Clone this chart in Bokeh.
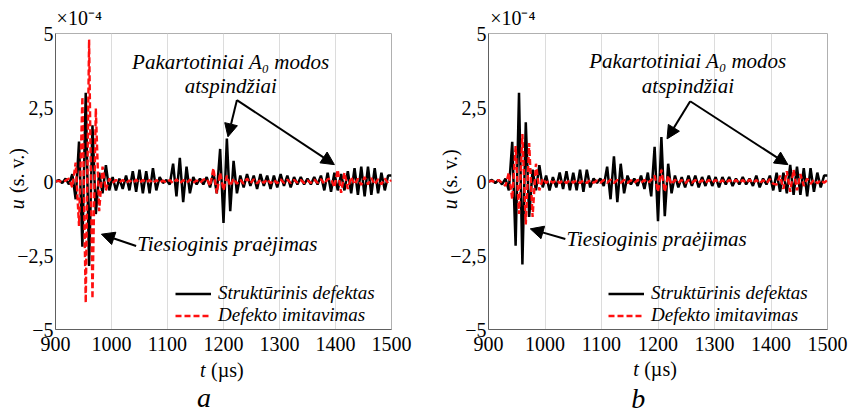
from bokeh.plotting import figure
from bokeh.layouts import row
from bokeh.models import (ColumnDataSource, Range1d, FixedTicker, Label, Arrow,
                          NormalHead, Legend)
from bokeh.embed import file_html
from bokeh.resources import INLINE

# Sampling instants (µs), one value every half period of the wave
t_us = list(range(900, 1501, 6))

# Signal amplitudes in units of 1e-4
black_a = [
    0.0, 0.05, -0.05, 0.1, -0.1, 0.25, -0.6, 1.35, -2.2, 3.0,
    -2.85, 1.9, -1.1, 0.3, -0.4, 0.55, -0.3, 0.15, -0.3, 0.1,
    -0.25, 0.2, -0.3, 0.35, -0.35, 0.4, -0.4, 0.35, -0.4, 0.45,
    -0.3, 0.15, -0.05, 0.05, -0.1, 0.6, -0.5, 0.8, -0.7, 0.5,
    -0.4, 0.15, -0.1, 0.1, -0.1, 0.15, -0.2, 0.3, -0.4, 1.1,
    -1.4, 1.45, -1.0, 0.7, -0.4, 0.2, -0.2, 0.25, -0.15, 0.2,
    -0.25, 0.25, -0.15, 0.2, -0.25, 0.2, -0.2, 0.25, -0.15, 0.2,
    -0.2, 0.15, -0.1, 0.15, -0.1, 0.1, -0.1, 0.15, -0.1, 0.2,
    -0.3, 0.3, -0.35, 0.3, -0.3, 0.25, -0.3, 0.35, -0.4, 0.45,
    -0.45, 0.5, -0.5, 0.5, -0.45, 0.45, -0.4, 0.3, -0.3, 0.2,
    0.2,
]
red_a = [
    0.0, 0.02, -0.02, 0.03, 0.1, -0.2, 0.64, -1.5, 2.86, -4.1,
    4.8, -3.96, 2.47, -1.0, 0.5, -0.3, 0.1, -0.05, 0.05, -0.03,
    0.05, -0.05, 0.04, -0.05, 0.06, -0.05, 0.05, -0.04, 0.05, -0.06,
    0.05, -0.04, 0.03, -0.04, 0.05, -0.06, 0.08, -0.06, 0.05, -0.05,
    0.06, -0.05, 0.04, -0.05, 0.06, 0.1, -0.15, 0.45, -0.4, 0.3,
    -0.3, 0.2, -0.15, 0.1, -0.08, 0.06, -0.08, 0.1, -0.06, 0.08,
    -0.07, 0.06, -0.05, 0.08, -0.06, 0.05, -0.06, 0.07, -0.05, 0.06,
    -0.05, 0.05, -0.04, 0.05, -0.05, 0.04, -0.05, 0.06, -0.05, 0.08,
    -0.08, 0.08, 0.1, -0.2, 0.4, -0.38, 0.3, -0.25, 0.15, -0.1,
    0.1, -0.12, 0.15, -0.1, 0.12, -0.1, 0.08, -0.1, 0.1, -0.06,
    0.05,
]
black_b = [
    0.0, 0.05, -0.05, 0.05, -0.1, 0.1, -0.3, 1.34, -2.17, 3.0,
    -2.8, 2.0, -1.2, 0.4, -0.3, 0.55, -0.2, 0.2, -0.3, 0.15,
    -0.2, 0.3, -0.25, 0.35, -0.3, 0.3, -0.3, 0.4, -0.35, 0.4,
    -0.2, 0.1, -0.05, 0.1, -0.15, 0.5, -0.6, 0.85, -0.7, 0.6,
    -0.4, 0.2, -0.1, 0.1, -0.15, 0.2, -0.25, 0.3, -0.5, 1.17,
    -1.34, 1.5, -1.17, 0.6, -0.4, 0.2, -0.2, 0.15, -0.2, 0.2,
    -0.15, 0.2, -0.2, 0.15, -0.15, 0.2, -0.15, 0.15, -0.2, 0.15,
    -0.1, 0.15, -0.15, 0.1, -0.1, 0.15, -0.1, 0.1, -0.15, 0.2,
    -0.2, 0.1, -0.1, 0.2, -0.3, 0.3, -0.35, 0.3, -0.4, 0.56,
    -0.45, 0.5, -0.45, 0.45, -0.5, 0.45, -0.35, 0.3, -0.2, 0.2,
    0.2,
]
red_b = [
    0.0, 0.02, -0.02, 0.05, -0.05, -0.15, 0.3, -0.6, 1.2, -1.1,
    1.6, -1.45, 1.3, -1.2, 0.6, -0.3, 0.1, -0.05, 0.05, -0.04,
    0.05, -0.05, 0.04, -0.05, 0.05, -0.04, 0.05, -0.05, 0.04, -0.05,
    0.05, -0.04, 0.03, -0.04, 0.05, -0.05, 0.06, -0.05, 0.05, -0.04,
    0.05, -0.05, 0.04, -0.05, 0.05, -0.04, 0.05, -0.05, 0.05, 0.2,
    -0.35, 0.4, -0.35, 0.2, -0.1, 0.06, -0.05, 0.05, -0.06, 0.05,
    -0.04, 0.05, -0.05, 0.04, -0.05, 0.05, -0.04, 0.05, -0.05, 0.04,
    -0.05, 0.05, -0.04, 0.05, -0.05, 0.05, -0.05, 0.06, -0.05, 0.05,
    -0.06, 0.05, -0.06, 0.08, -0.08, -0.1, 0.2, -0.25, 0.35, -0.35,
    0.4, -0.3, 0.25, -0.15, 0.1, -0.08, 0.06, -0.06, 0.05, -0.04,
    0.05,
]

x_ticks = [900, 1000, 1100, 1200, 1300, 1400, 1500]
y_ticks = [-5, -2.5, 0, 2.5, 5]
y_tick_labels = {5: "5", 2.5: "2,5", 0: "0", -2.5: "\u22122,5", -5: "\u22125"}

legend_names = ["Strukt\u016brinis defektas", "Defekto imitavimas"]
note_top = ["Pakartotiniai A\u2080 modos", "atspind\u017eiai"]
note_direct = "Tiesioginis pra\u0117jimas"

SERIF = "Liberation Serif"
HALF_PI = 1.5708


def make_panel(black, red, letter, borders, layout):
    left, right, top, bottom = borders
    src = ColumnDataSource(dict(t=t_us, black=black, red=red))
    p = figure(width=427, height=416, output_backend="svg",
               toolbar_location=None, x_range=Range1d(900, 1500),
               y_range=Range1d(-5, 5), min_border_left=left,
               min_border_right=right, min_border_top=top,
               min_border_bottom=bottom)
    p.background_fill_color = "white"
    p.border_fill_color = "white"
    p.outline_line_color = "#b0b0b0"
    p.outline_line_width = 1

    p.xaxis.ticker = FixedTicker(ticks=x_ticks)
    p.yaxis.ticker = FixedTicker(ticks=y_ticks)
    p.yaxis.major_label_overrides = y_tick_labels
    for ax in (p.xaxis[0], p.yaxis[0]):
        ax.major_tick_line_color = None
        ax.minor_tick_line_color = None
        ax.major_tick_out = 0
        ax.minor_tick_out = 0
        ax.axis_line_color = "#606060"
        ax.major_label_text_font = SERIF
        ax.major_label_text_font_size = "20px"
        ax.major_label_text_color = "black"
    p.xaxis.major_label_standoff = 7
    p.yaxis.major_label_standoff = 2
    p.xgrid.ticker = FixedTicker(ticks=x_ticks)
    p.xgrid.grid_line_color = "#dcdcdc"
    p.ygrid.grid_line_color = None

    rb = p.line("t", "black", source=src, line_color="black", line_width=2.5)
    rr = p.line("t", "red", source=src, line_color="#ff1010", line_width=2.4,
                line_dash="6 3")

    lg = Legend(items=[(legend_names[0], [rb]), (legend_names[1], [rr])],
                location=layout["legend"], glyph_width=36, glyph_height=21,
                label_height=21, spacing=0, padding=0, margin=0,
                label_standoff=7, background_fill_alpha=0,
                border_line_alpha=0, label_text_font=SERIF,
                label_text_font_style="italic", label_text_color="black",
                label_text_font_size="19px")
    p.add_layout(lg)

    def text(x, y, s, size="20px", style="italic", align="left", angle=0.0,
             place="center"):
        p.add_layout(Label(x=x, y=y, text=s, text_font=SERIF,
                           text_font_size=size, text_font_style=style,
                           text_align=align, text_baseline="middle",
                           angle=angle, text_color="black"), place)

    # annotations inside the plotting area
    cx, y1, y2 = layout["note_top"]
    text(cx, y1, note_top[0], size="21px", align="center")
    text(cx, y2, note_top[1], size="21px", align="center")
    dx, dy = layout["note_direct"]
    text(dx, dy, note_direct, size="21px")

    head = dict(size=13, fill_color="black", line_color="black")
    sx, sy = layout["arrow_start"]
    for ex, ey in layout["arrow_ends"]:
        p.add_layout(Arrow(end=NormalHead(**head), x_start=sx, y_start=sy,
                           x_end=ex, y_end=ey, line_width=2,
                           line_color="black"))
    (s2x, s2y), (e2x, e2y) = layout["direct_arrow"]
    p.add_layout(Arrow(end=NormalHead(**head), x_start=s2x, y_start=s2y,
                       x_end=e2x, y_end=e2y, line_width=2,
                       line_color="black"))

    # captions outside the plotting area live in the side panels so that
    # they are not clipped to the frame; each is drawn at its own position
    ex0, ey0 = layout["exponent"]
    text(ex0, ey0, "\u00d710\u207b\u2074", style="normal", place="above")
    ux, uy1, uy2 = layout["u_label"]
    text(ux, uy1, "u", style="italic", align="center", angle=HALF_PI,
         place="below")
    text(ux, uy2, "(s. v.)", style="normal", align="center", angle=HALF_PI,
         place="right")
    tx, ty, tx2 = layout["t_label"]
    text(tx, ty, "t", style="italic", place=layout["t_side"])
    text(tx2, ty, "(\u00b5s)", style="normal", place="below")
    lx, ly = layout["letter"]
    text(lx, ly, letter, size="28px", style="italic", align="center",
         place="left")
    return p


layout_a = dict(
    legend=(120, 3),
    note_top=(1213, 4.03, 3.22),
    note_direct=(1046, -2.11),
    arrow_start=(1224, 2.75),
    arrow_ends=[(1208, 1.51), (1398, 0.57)],
    direct_arrow=((1044, -2.18), (982, -1.78)),
    exponent=(902, 5.54),
    u_label=(830.6, -0.77, 0.37),
    t_label=(1158, -6.38, 1177.7),
    t_side="right",
    letter=(1165, -7.3),
)
layout_b = dict(
    legend=(120, 3),
    note_top=(1253, 4.08, 3.24),
    note_direct=(1038, -1.94),
    arrow_start=(1257, 2.71),
    arrow_ends=[(1216, 1.44), (1430, 0.57)],
    direct_arrow=((1036, -1.94), (974, -1.6)),
    exponent=(903, 5.52),
    u_label=(832.2, -0.77, 0.33),
    t_label=(1156, -6.35, 1175.6),
    t_side="left",
    letter=(1165, -7.32),
)

# plot borders: left, right, top, bottom
panel_a = make_panel(black_a, red_a, "a", (54, 36, 33, 85), layout_a)
panel_b = make_panel(black_b, red_b, "b", (61, 27, 31, 87), layout_b)

page = row(panel_a, panel_b)
open("out.html", "w").write(file_html(page, INLINE))
